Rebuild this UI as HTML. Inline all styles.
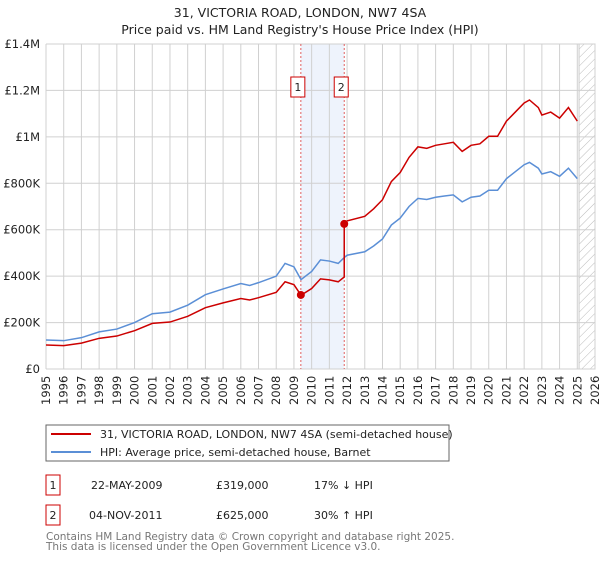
<!DOCTYPE html>
<html><head><meta charset="utf-8"><style>
body{margin:0;background:#fff;font-family:"Liberation Sans","DejaVu Sans",sans-serif;}
svg text{font-family:"DejaVu Sans","Liberation Sans",sans-serif;}
</style></head><body>
<svg id="chart" width="600" height="560" viewBox="0 0 600 560" xmlns="http://www.w3.org/2000/svg">
<defs><pattern id="hatch" width="6" height="6" patternUnits="userSpaceOnUse" patternTransform="rotate(45)"><line x1="0" y1="0" x2="0" y2="6" stroke="#bbb" stroke-width="1"/></pattern></defs>
<text x="300" y="17" text-anchor="middle" font-size="12.5" fill="#222">31, VICTORIA ROAD, LONDON, NW7 4SA</text>
<text x="300" y="34" text-anchor="middle" font-size="12.5" fill="#222">Price paid vs. HM Land Registry's House Price Index (HPI)</text>
<g id="grid"></g><g id="marks"></g><g id="axes"></g>
<g>
<rect x="46" y="425" width="403" height="36" fill="#fff" stroke="#666"/>
<line x1="51" y1="434" x2="91" y2="434" stroke="#cc0000" stroke-width="2"/>
<text x="100" y="438" font-size="11" fill="#222">31, VICTORIA ROAD, LONDON, NW7 4SA (semi-detached house)</text>
<line x1="51" y1="452" x2="91" y2="452" stroke="#5b8fd6" stroke-width="2"/>
<text x="100" y="456" font-size="11" fill="#222">HPI: Average price, semi-detached house, Barnet</text>
</g>
<g font-size="11" fill="#222">
<rect x="46" y="475" width="14" height="20" fill="#fff" stroke="#cc0000"/><text x="53" y="489" text-anchor="middle">1</text>
<text x="91" y="489">22-MAY-2009</text><text x="216" y="489">£319,000</text><text x="314" y="489">17% ↓ HPI</text>
<rect x="46" y="505" width="14" height="20" fill="#fff" stroke="#cc0000"/><text x="53" y="519" text-anchor="middle">2</text>
<text x="89" y="519">04-NOV-2011</text><text x="216" y="519">£625,000</text><text x="314" y="519">30% ↑ HPI</text>
</g>
<text x="46" y="540" font-size="10.5" fill="#777">Contains HM Land Registry data © Crown copyright and database right 2025.</text>
<text x="46" y="550" font-size="10.5" fill="#777">This data is licensed under the Open Government Licence v3.0.</text>
</svg>
<script>
const hpiYears=[1995,1996,1997,1998,1999,2000,2001,2002,2003,2004,2005,2006,2006.5,2007,2008,2008.5,2009,2009.4,2010,2010.5,2011,2011.5,2011.84,2012,2013,2013.5,2014,2014.5,2015,2015.5,2016,2016.5,2017,2017.5,2018,2018.5,2019,2019.5,2020,2020.5,2021,2021.5,2022,2022.3,2022.8,2023,2023.5,2024,2024.5,2025];
const hpiValues=[125,122,135,160,172,200,238,245,275,320,345,368,360,372,400,455,440,385,420,470,465,455,480,490,505,530,560,620,650,700,735,730,740,745,750,720,740,745,770,770,820,850,880,890,865,840,850,830,865,820];
const saleYears=[2009.39,2011.84];
const salePrices=[319,625];
const yTicks=[0,200,400,600,800,1000,1200,1400];
const yTickLabels=["£0","£200K","£400K","£600K","£800K","£1M","£1.2M","£1.4M"];
const xTicks=[1995,1996,1997,1998,1999,2000,2001,2002,2003,2004,2005,2006,2007,2008,2009,2010,2011,2012,2013,2014,2015,2016,2017,2018,2019,2020,2021,2022,2023,2024,2025,2026];
const NS="http://www.w3.org/2000/svg";
const X=y=>46+(y-1995)*(595-46)/31;
const Y=v=>369-v*(369-44)/1400;
function mk(tag,attrs,parent){const e=document.createElementNS(NS,tag);for(const k in attrs)e.setAttribute(k,attrs[k]);parent.appendChild(e);return e;}
const grid=document.getElementById('grid'),marks=document.getElementById('marks'),axes=document.getElementById('axes');
let b=mk('rect',{x:X(saleYears[0]),y:44,width:X(saleYears[1])-X(saleYears[0]),height:325,fill:'#eef3fc'},grid);


let h=mk('rect',{x:X(2025.1),y:44,width:595-X(2025.1),height:325,fill:'url(#hatch)',stroke:'#ccc'},grid);


xTicks.forEach(t=>{const l=mk('line',{x1:X(t),x2:X(t),y1:44,y2:369,stroke:'#d0d0d0'},grid);


const tx=mk('text',{x:0,y:0,transform:`translate(${X(t)+4},405) rotate(-90)`,'font-size':'11.5',fill:'#222'},axes);tx.textContent=t;

});
yTicks.forEach((t,i)=>{const l=mk('line',{x1:46,x2:595,y1:Y(t),y2:Y(t),stroke:'#d0d0d0'},grid);


const tx=mk('text',{x:40,y:Y(t)+4,'text-anchor':'end','font-size':'11.5',fill:'#222'},axes);tx.textContent=yTickLabels[i];

});
saleYears.forEach((s,i)=>{const l=mk('line',{x1:X(s),x2:X(s),y1:44,y2:369,stroke:'#e06060','stroke-dasharray':'2,2'},grid);


const r=mk('rect',{x:X(s)-10-(i?0:0),y:77,width:14,height:20,fill:'#fff',stroke:'#cc0000'},marks);


const tx=mk('text',{x:X(s)-3,y:91,'text-anchor':'middle','font-size':'11',fill:'#222'},marks);tx.textContent=i+1;

});
function hpiAt(y){for(let i=0;i<hpiYears.length-1;i++){if(y<=hpiYears[i+1]){const f=(y-hpiYears[i])/(hpiYears[i+1]-hpiYears[i]);return hpiValues[i]+f*(hpiValues[i+1]-hpiValues[i]);}}return hpiValues[hpiValues.length-1];}
const p1=hpiYears.map((y,i)=>`${X(y)},${Y(hpiValues[i])}`).join(' ');
const hl=mk('polyline',{points:p1,fill:'none',stroke:'#5b8fd6','stroke-width':1.5},marks);


const r1=salePrices[0]/hpiAt(saleYears[0]),r2=salePrices[1]/hpiAt(saleYears[1]);
const pts=[];
hpiYears.forEach((y,i)=>{if(y<saleYears[1])pts.push([y,hpiValues[i]*r1]);});
pts.push([saleYears[1],hpiAt(saleYears[1])*r1]);pts.push([saleYears[1],salePrices[1]]);
hpiYears.forEach((y,i)=>{if(y>saleYears[1])pts.push([y,hpiValues[i]*r2]);});
const pl=mk('polyline',{points:pts.map(p=>`${X(p[0])},${Y(p[1])}`).join(' '),fill:'none',stroke:'#cc0000','stroke-width':1.5},marks);


saleYears.forEach((s,i)=>{const c=mk('circle',{cx:X(s),cy:Y(salePrices[i]),r:4,fill:'#cc0000'},marks);

});
</script>
</body></html>
